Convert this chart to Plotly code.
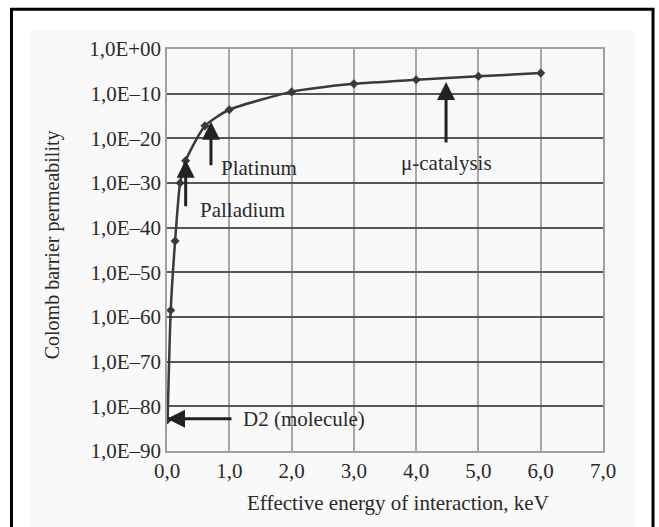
import plotly.graph_objects as go

# Data
energy_kev = [0.01, 0.06, 0.13, 0.21, 0.30, 0.61, 1.0, 2.0, 3.0, 4.0, 5.0, 6.0]
# permeability expressed as decimal exponents (value = 10 ** exponent)
permeability_exp = [-83, -58.5, -43, -30, -25, -17.2, -13.6, -9.6, -7.8, -6.9, -6.1, -5.4]
permeability = [10.0 ** e for e in permeability_exp]
y_tick_vals = [1e0, 1e-10, 1e-20, 1e-30, 1e-40, 1e-50, 1e-60, 1e-70, 1e-80, 1e-90]
y_tick_text = ["1,0E+00", "1,0E–10", "1,0E–20", "1,0E–30", "1,0E–40",
               "1,0E–50", "1,0E–60", "1,0E–70", "1,0E–80", "1,0E–90"]
x_tick_vals = [0, 1, 2, 3, 4, 5, 6, 7]
x_tick_text = ["0,0", "1,0", "2,0", "3,0", "4,0", "5,0", "6,0", "7,0"]

FONT = "Liberation Serif"
INK = "#2a2a2a"
FS = 21

fig = go.Figure()
fig.add_trace(go.Scatter(
    x=energy_kev, y=permeability, mode="lines+markers",
    line=dict(color="#3a3a3a", width=2.5, shape="spline", smoothing=0.6),
    marker=dict(symbol="diamond", size=7, color="#3a3a3a"),
    showlegend=False, hoverinfo="skip",
))

fig.update_layout(
    width=659, height=527,
    margin=dict(l=167, r=56, t=49, b=76),
    paper_bgcolor="white", plot_bgcolor="white",
    font=dict(family=FONT, size=FS, color=INK),
    xaxis=dict(range=[0, 7], tickvals=x_tick_vals, ticktext=x_tick_text,
               showgrid=True, gridcolor="#a8a8a8", gridwidth=1.5,
               showline=True, linecolor="#a0a0a0", linewidth=1.5, mirror=True,
               zeroline=False, ticks="", tickfont=dict(size=FS, family=FONT, color=INK)),
    yaxis=dict(type="log", range=[-90, 0], tickvals=y_tick_vals, ticktext=y_tick_text,
               showgrid=True, gridcolor="#555555", gridwidth=2,
               showline=True, linecolor="#a0a0a0", linewidth=1.5, mirror=True,
               zeroline=False, ticks="", tickfont=dict(size=FS, family=FONT, color=INK)),
)

# outer frame and light background
fig.add_shape(type="rect", xref="paper", yref="paper", x0=-0.3567, x1=1.1147,
              y0=-0.25, y1=1.0988, line=dict(color="black", width=3),
              fillcolor="white", layer="below")
fig.add_shape(type="rect", xref="paper", yref="paper", x0=-0.314, x1=1.075,
              y0=-0.22, y1=1.046, line=dict(width=0),
              fillcolor="#f9f9f9", layer="below")

# axis titles
fig.add_annotation(text="Colomb barrier permeability", xref="paper", yref="paper",
                   x=(52 - 167) / 436, y=(450.7 - 245) / 402, textangle=-90, showarrow=False,
                   xanchor="center", yanchor="middle",
                   font=dict(size=20, family=FONT, color=INK))
fig.add_annotation(text="Effective energy of interaction, keV", xref="paper", yref="paper",
                   x=(398 - 167) / 436, y=(450.7 - 503) / 402, showarrow=False,
                   xanchor="center", yanchor="middle",
                   font=dict(size=FS, family=FONT, color=INK))

# arrows
arrow_style = dict(showarrow=True, arrowhead=2, arrowsize=1.2, arrowwidth=3,
                   arrowcolor="#222222", text="", xref="x", yref="y")
fig.add_annotation(x=0.706, y=-16.3, ax=0, ay=45, **arrow_style)
fig.add_annotation(x=0.30, y=-24.8, ax=0, ay=48, **arrow_style)
fig.add_annotation(x=4.48, y=-7.4, ax=0, ay=62, **arrow_style)
fig.add_annotation(x=0.0, y=-82.8, ax=66, ay=0, **arrow_style)

# labels
lab = dict(showarrow=False, xref="x", yref="y", yanchor="middle",
           font=dict(size=FS, family=FONT, color=INK))
fig.add_annotation(text="Platinum", x=0.835, y=-26.7, xanchor="left", **lab)
fig.add_annotation(text="Palladium", x=0.49, y=-36.0, xanchor="left", **lab)
fig.add_annotation(text="μ-catalysis", x=4.49, y=-25.6, xanchor="center", **lab)
fig.add_annotation(text="D2 (molecule)", x=1.19, y=-82.8, xanchor="left", **lab)

fig.write_html("out.html")
